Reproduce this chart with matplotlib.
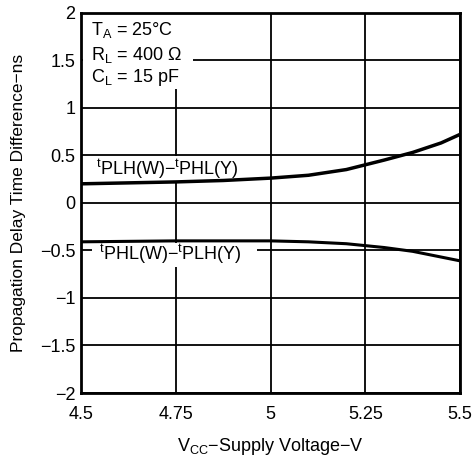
import matplotlib.pyplot as plt
from matplotlib.patches import Rectangle

plt.rcParams['font.family'] = ['Liberation Sans', 'DejaVu Sans']
plt.rcParams['mathtext.fontset'] = 'custom'
plt.rcParams['mathtext.rm'] = 'Liberation Sans'

# данные
vcc = [4.5, 4.625, 4.75, 4.875, 5.0, 5.1, 5.2, 5.25, 5.3, 5.375, 5.45, 5.5]
plh_phl = [0.20, 0.21, 0.22, 0.235, 0.26, 0.29, 0.35, 0.40, 0.45, 0.53, 0.63, 0.72]
phl_plh = [-0.41, -0.405, -0.40, -0.40, -0.40, -0.41, -0.43, -0.45, -0.47, -0.51, -0.57, -0.61]

x_ticks = [4.5, 4.75, 5, 5.25, 5.5]
x_labels = ['4.5', '4.75', '5', '5.25', '5.5']
y_ticks = [-2, -1.5, -1, -0.5, 0, 0.5, 1, 1.5, 2]
y_labels = ['\u22122', '\u22121.5', '\u22121', '\u22120.5', '0', '0.5', '1', '1.5', '2']

fig = plt.figure(figsize=(4.75, 4.61), dpi=100)
ax = fig.add_axes([0.1705, 0.1475, 0.798, 0.825])

ax.set_xlim(4.5, 5.5)
ax.set_ylim(-2, 2)
ax.set_xticks(x_ticks)
ax.set_xticklabels(x_labels)
ax.set_yticks(y_ticks)
ax.set_yticklabels(y_labels)
ax.tick_params(axis='x', length=0, labelsize=13, pad=9)
ax.tick_params(axis='y', length=0, labelsize=13, pad=4)
ax.set_axisbelow(True)
ax.grid(True, color='black', linewidth=1.3)
for s in ax.spines.values():
    s.set_linewidth(2)

# белые подложки под надписями (прерывают сетку)
ax.add_patch(Rectangle((4.505, 1.2), 0.29, 0.79, facecolor='white', edgecolor='none', zorder=1))
ax.add_patch(Rectangle((4.505, 0.23), 0.44, 0.26, facecolor='white', edgecolor='none', zorder=1))
ax.add_patch(Rectangle((4.53, -0.68), 0.435, 0.26, facecolor='white', edgecolor='none', zorder=1))

ax.plot(vcc, plh_phl, color='black', linewidth=2.5, zorder=3)
ax.plot(vcc, phl_plh, color='black', linewidth=2.2, zorder=3)

ax.text(4.54, 0.355, r'$^{\mathrm{t}}$PLH(W)$-^{\mathrm{t}}$PHL(Y)', fontsize=13, va='center', zorder=4)
ax.text(4.548, -0.545, r'$^{\mathrm{t}}$PHL(W)$-^{\mathrm{t}}$PLH(Y)', fontsize=13, va='center', zorder=4)

ax.text(4.527, 1.82, r'T$_{\mathrm{A}}$ = 25°C', fontsize=13, va='center', zorder=4)
ax.text(4.527, 1.56, r'R$_{\mathrm{L}}$ = 400 Ω', fontsize=13, va='center', zorder=4)
ax.text(4.527, 1.32, r'C$_{\mathrm{L}}$ = 15 pF', fontsize=13, va='center', zorder=4)

ax.set_ylabel('Propagation Delay Time Difference\u2212ns', fontsize=12.5, labelpad=10)
ax.set_xlabel(r'V$_{\mathrm{CC}}$$-$Supply Voltage$-$V', fontsize=13, labelpad=10)

fig.savefig('out.png', dpi=100)
